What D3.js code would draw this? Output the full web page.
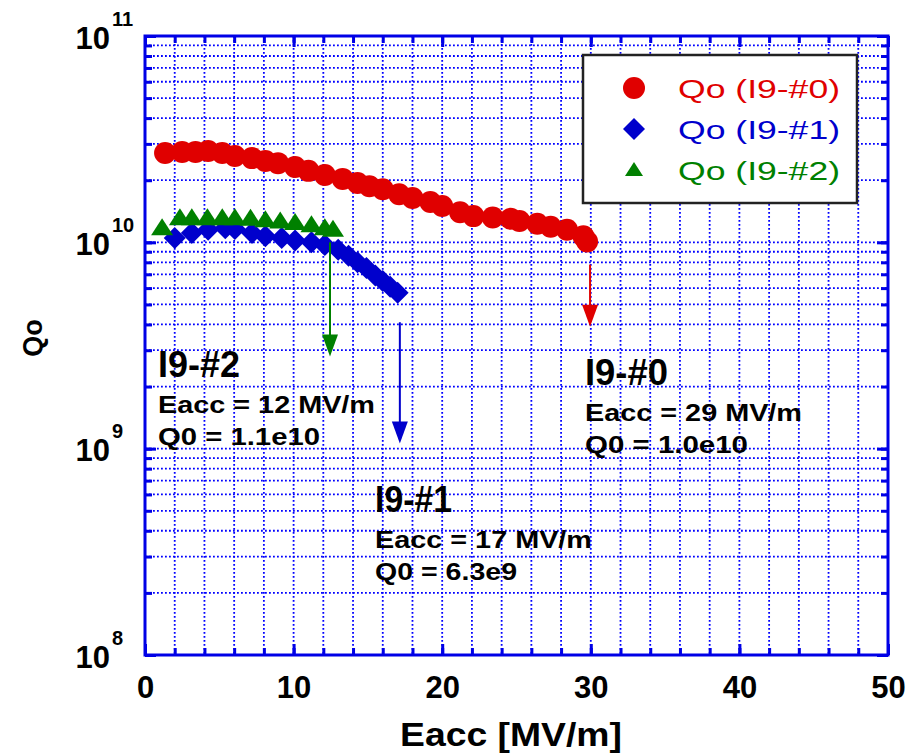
<!DOCTYPE html>
<html>
<head>
<meta charset="utf-8">
<script src="https://cdn.jsdelivr.net/npm/d3@7"></script>
<style>
  body { margin: 0; background: #fff; }
  text { font-family: Arial, "Liberation Sans", sans-serif; }
</style>
</head>
<body>
<div id="chart"></div>
<script>
// Qo vs Eacc for three cavity tests
const eacc0 = [1.35, 2.5, 3.4, 4.25, 5.2, 6.05, 7.2, 8.1, 8.95, 10.1, 11.0, 12.1, 13.3, 14.3, 15.1, 16.0, 17.1, 18.0, 19.2, 20.0, 21.2, 22.1, 23.4, 24.6, 25.2, 26.4, 27.3, 28.4, 29.5, 29.75];
const qo0   = [2.71e10, 2.74e10, 2.74e10, 2.77e10, 2.71e10, 2.62e10, 2.56e10, 2.48e10, 2.42e10, 2.32e10, 2.22e10, 2.12e10, 2.03e10, 1.94e10, 1.87e10, 1.81e10, 1.71e10, 1.64e10, 1.57e10, 1.50e10, 1.40e10, 1.34e10, 1.32e10, 1.30e10, 1.27e10, 1.23e10, 1.19e10, 1.15e10, 1.07e10, 1.01e10];

const eacc1 = [2.0, 3.15, 4.25, 5.4, 6.05, 7.2, 8.1, 9.2, 10.1, 11.2, 12.1, 13.0, 13.7, 14.3, 14.9, 15.5, 16.0, 16.5, 17.0];
const qo1   = [1.05e10, 1.11e10, 1.15e10, 1.17e10, 1.16e10, 1.11e10, 1.07e10, 1.05e10, 1.02e10, 1.00e10, 0.97e10, 0.92e10, 0.86e10, 0.80e10, 0.75e10, 0.69e10, 0.65e10, 0.61e10, 0.57e10];

const eacc2 = [1.15, 2.35, 3.15, 4.2, 5.2, 6.05, 7.1, 8.1, 9.1, 10.1, 11.2, 12.1, 12.65];
const qo2   = [1.17e10, 1.31e10, 1.31e10, 1.31e10, 1.31e10, 1.31e10, 1.30e10, 1.28e10, 1.26e10, 1.24e10, 1.21e10, 1.17e10, 1.15e10];

const seriesNames = ["Qo (I9-#0)", "Qo (I9-#1)", "Qo (I9-#2)"];
const xTicks = [0, 10, 20, 30, 40, 50];
const yTicks = [1e8, 1e9, 1e10, 1e11];
const yExponents = ["8", "9", "10", "11"];

// quench arrows: [Eacc, Q top, Q bottom]
const arrows = [
  { e: 29.95, q1: 7.8e9, q2: 3.9e9, color: "#e00000" },
  { e: 17.15, q1: 4.1e9, q2: 1.06e9, color: "#0000cc" },
  { e: 12.45, q1: 1.0e10, q2: 2.8e9, color: "#008000" }
];

const notes = [
  { lines: ["I9-#2", "Eacc = 12 MV/m", "Q0 = 1.1e10"], x: 158, y: 377, lens: [82, 217, 162] },
  { lines: ["I9-#1", "Eacc = 17 MV/m", "Q0 = 6.3e9"], x: 375, y: 512, lens: [77, 217, 142] },
  { lines: ["I9-#0", "Eacc = 29 MV/m", "Q0 = 1.0e10"], x: 585, y: 385, lens: [83, 217, 163] }
];

const W = 911, H = 755;
const margin = { top: 36, right: 23, bottom: 100, left: 145 };
const width = W - margin.left - margin.right,
      height = H - margin.top - margin.bottom;

const svg = d3.select("#chart").append("svg")
    .attr("width", W).attr("height", H);

const g = svg.append("g")
    .attr("transform", `translate(${margin.left},${margin.top})`);

const x = d3.scaleLinear().domain([0, 50]).range([0, width]);
const y = d3.scaleLog().domain([1e8, 1e11]).range([height, 0]);

const blue = "#0000e6";

// grid lines
const xMinor = d3.range(2, 50, 2);
const yMinor = [];
[1e8, 1e9, 1e10].forEach(d => { for (let k = 1; k <= 9; k++) yMinor.push(d * k); });
const yGrid = yMinor.filter(v => v > 1e8);

g.append("g").selectAll("line").data(xMinor).join("line")
    .attr("x1", d => x(d)).attr("x2", d => x(d))
    .attr("y1", 0).attr("y2", height)
    .attr("stroke", "#0000ff").attr("stroke-width", 1.8)
    .attr("stroke-dasharray", "1.8,2.2");

g.append("g").selectAll("line").data(yGrid).join("line")
    .attr("x1", 0).attr("x2", width)
    .attr("y1", d => y(d)).attr("y2", d => y(d))
    .attr("stroke", "#0000ff").attr("stroke-width", 1.8)
    .attr("stroke-dasharray", "1.8,2.2");

// data markers
g.append("g").selectAll("circle").data(eacc0).join("circle")
    .attr("cx", d => x(d)).attr("cy", (d, i) => y(qo0[i]))
    .attr("r", 11).attr("fill", "#e00000");

g.append("g").selectAll("path").data(eacc1).join("path")
    .attr("transform", (d, i) => `translate(${x(d)},${y(qo1[i])})`)
    .attr("d", "M0,-11L11,0L0,11L-11,0Z")
    .attr("fill", "#0000cc");

g.append("g").selectAll("path").data(eacc2).join("path")
    .attr("transform", (d, i) => `translate(${x(d)},${y(qo2[i])})`)
    .attr("d", "M0,-10L11,7L-11,7Z")
    .attr("fill", "#008000");

// quench arrows
arrows.forEach(a => {
  const ax = x(a.e), ya = y(a.q1), yb = y(a.q2);
  g.append("line")
      .attr("x1", ax).attr("x2", ax).attr("y1", ya).attr("y2", yb - 6)
      .attr("stroke", a.color).attr("stroke-width", 2);
  g.append("path")
      .attr("d", `M${ax - 8},${yb - 22}L${ax + 8},${yb - 22}L${ax},${yb}Z`)
      .attr("fill", a.color);
});

// axes (ticks inward on all four sides)
function styleAxis(sel) {
  sel.select(".domain").remove();
  sel.selectAll(".tick line").attr("stroke", blue).attr("stroke-width", 3);
}

g.append("g").attr("transform", `translate(0,${height})`)
    .call(d3.axisBottom(x).tickValues(xMinor).tickSize(-7).tickFormat(""))
    .call(styleAxis);
const xAxis = g.append("g").attr("transform", `translate(0,${height})`)
    .call(d3.axisBottom(x).tickValues(xTicks).tickSize(-11).tickPadding(21))
    .call(styleAxis);
xAxis.selectAll("text")
    .attr("fill", "#000").style("font-size", "31px").style("font-weight", "bold")
    .style("font-family", "Arial, 'Liberation Sans', sans-serif");

g.append("g")
    .call(d3.axisTop(x).tickValues(xMinor).tickSize(-7).tickFormat(""))
    .call(styleAxis);
g.append("g")
    .call(d3.axisTop(x).tickValues(xTicks).tickSize(-11).tickFormat(""))
    .call(styleAxis);

g.append("g")
    .call(d3.axisLeft(y).tickValues(yMinor).tickSize(-7).tickFormat(""))
    .call(styleAxis);
const yAxis = g.append("g")
    .call(d3.axisLeft(y).tickValues(yTicks).tickSize(-11).tickFormat(""))
    .call(styleAxis);
yAxis.selectAll(".tick").each(function (d, i) {
  const t = d3.select(this);
  t.append("text").attr("x", -35).attr("y", 12)
      .attr("text-anchor", "end").attr("fill", "#000")
      .style("font-size", "31px").style("font-weight", "bold")
      .style("font-family", "Arial, 'Liberation Sans', sans-serif")
      .text("10");
  t.append("text").attr("x", -33).attr("y", -11)
      .attr("text-anchor", "start").attr("fill", "#000")
      .style("font-size", "20px").style("font-weight", "bold")
      .style("font-family", "Arial, 'Liberation Sans', sans-serif")
      .text(yExponents[i]);
});

g.append("g").attr("transform", `translate(${width},0)`)
    .call(d3.axisRight(y).tickValues(yMinor).tickSize(-7).tickFormat(""))
    .call(styleAxis);
g.append("g").attr("transform", `translate(${width},0)`)
    .call(d3.axisRight(y).tickValues(yTicks).tickSize(-11).tickFormat(""))
    .call(styleAxis);

// frame
g.append("rect")
    .attr("width", width).attr("height", height)
    .attr("fill", "none").attr("stroke", blue).attr("stroke-width", 3);

// annotations
notes.forEach(n => {
  n.lines.forEach((s, i) => {
    svg.append("text")
        .attr("x", n.x).attr("y", i === 0 ? n.y : n.y + 36 + (i - 1) * 32)
        .attr("textLength", n.lens[i]).attr("lengthAdjust", "spacingAndGlyphs")
        .style("font-size", i === 0 ? "36px" : "23px")
        .style("font-weight", "bold")
        .attr("fill", "#000")
        .text(s);
  });
});

// legend
const legend = svg.append("g");
legend.append("rect")
    .attr("x", 583).attr("y", 55).attr("width", 274).attr("height", 148)
    .attr("fill", "#fff").attr("stroke", "#222").attr("stroke-width", 2.5);
const legColors = ["#e00000", "#0000cc", "#008000"];
const legShapes = ["circle", "M0,-11L11,0L0,11L-11,0Z", "M0,-8L9,6L-9,6Z"];
seriesNames.forEach((s, i) => {
  const cy = 88 + i * 41;
  if (i === 0) {
    legend.append("circle").attr("cx", 634).attr("cy", cy).attr("r", 11).attr("fill", legColors[i]);
  } else {
    legend.append("path").attr("transform", `translate(634,${cy})`)
        .attr("d", legShapes[i]).attr("fill", legColors[i]);
  }
  legend.append("text")
      .attr("x", 678).attr("y", cy + 10)
      .attr("textLength", 162).attr("lengthAdjust", "spacingAndGlyphs")
      .style("font-size", "26px")
      .attr("fill", legColors[i])
      .text(s);
});

// axis titles
svg.append("text")
    .attr("x", 511).attr("y", 746)
    .attr("text-anchor", "middle")
    .attr("textLength", 222).attr("lengthAdjust", "spacingAndGlyphs")
    .style("font-size", "34px").style("font-weight", "bold")
    .text("Eacc [MV/m]");

svg.append("text")
    .attr("transform", "translate(42,338) rotate(-90)")
    .attr("text-anchor", "middle")
    .style("font-size", "27px").style("font-weight", "bold")
    .text("Qo");
</script>
</body>
</html>
